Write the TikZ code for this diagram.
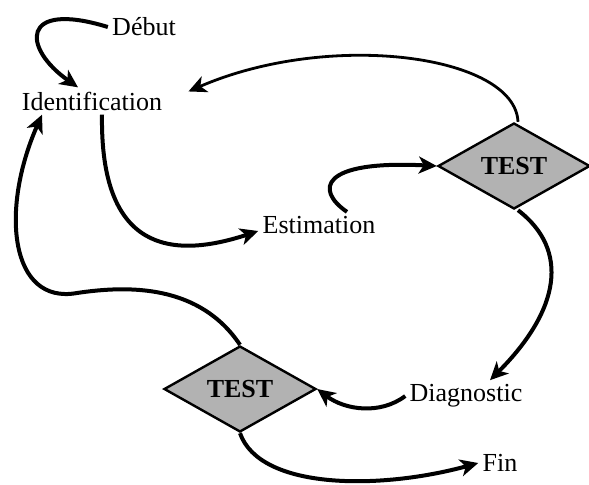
\documentclass[tikz,border=0pt]{standalone}
\usepackage{fontspec}
\setmainfont{Liberation Serif}
\usetikzlibrary{arrows.meta,shapes.geometric}
\begin{document}
\begin{tikzpicture}[
  x=0.5pt, y=-0.5pt,
  lbl/.style={font=\fontsize{13}{15}\selectfont, inner sep=2pt},
  testbox/.style={diamond, draw, line width=1.2pt, fill=black!30, inner sep=0pt,
    minimum width=76pt, minimum height=43pt, font=\fontsize{13}{15}\selectfont\bfseries},
  flow/.style={line width=2pt, -{Stealth[length=9pt, width=8.5pt, inset=2.5pt]}}
]
\useasboundingbox (0,0) rectangle (589,484);
\node[lbl] (debut) at (144,27) {Début};
\node[lbl] (iden)  at (92,101) {Identification};
\node[lbl] (estim) at (319,225) {Estimation};
\node[testbox] (test1) at (514,166) {TEST};
\node[lbl] (diag)  at (466,396) {Diagnostic};
\node[testbox] (test2) at (240,389) {TEST};
\node[lbl] (fin)   at (500,463) {Fin};

\draw[flow] (debut.west) .. controls (20,0) and (22,48) .. ([xshift=-7pt]iden.north);
\draw[flow] ([xshift=5pt]iden.south) .. controls (100,250) and (170,260) .. ([yshift=-3pt]estim.west);
\draw[flow] ([xshift=14pt]estim.north) .. controls (315,190) and (320,160) .. (test1.west);
\draw[flow, line width=1.4pt, shorten >=12pt] ([xshift=2pt]test1.north) .. controls (515,55) and (330,30) .. (iden.east);
\draw[flow] ([xshift=2pt]test1.south) .. controls (570,250) and (560,310) .. ([xshift=12pt]diag.north);
\draw[flow] (diag.west) .. controls (380,415) and (345,410) .. (test2.east);
\draw[flow] (test2.north) .. controls (200,285) and (130,285) .. (77,293)
  .. controls (10,305) and (0,210) .. ([xshift=-25pt]iden.south);
\draw[flow] (test2.south) .. controls (260,490) and (380,490) .. (fin.west);
\end{tikzpicture}
\end{document}
